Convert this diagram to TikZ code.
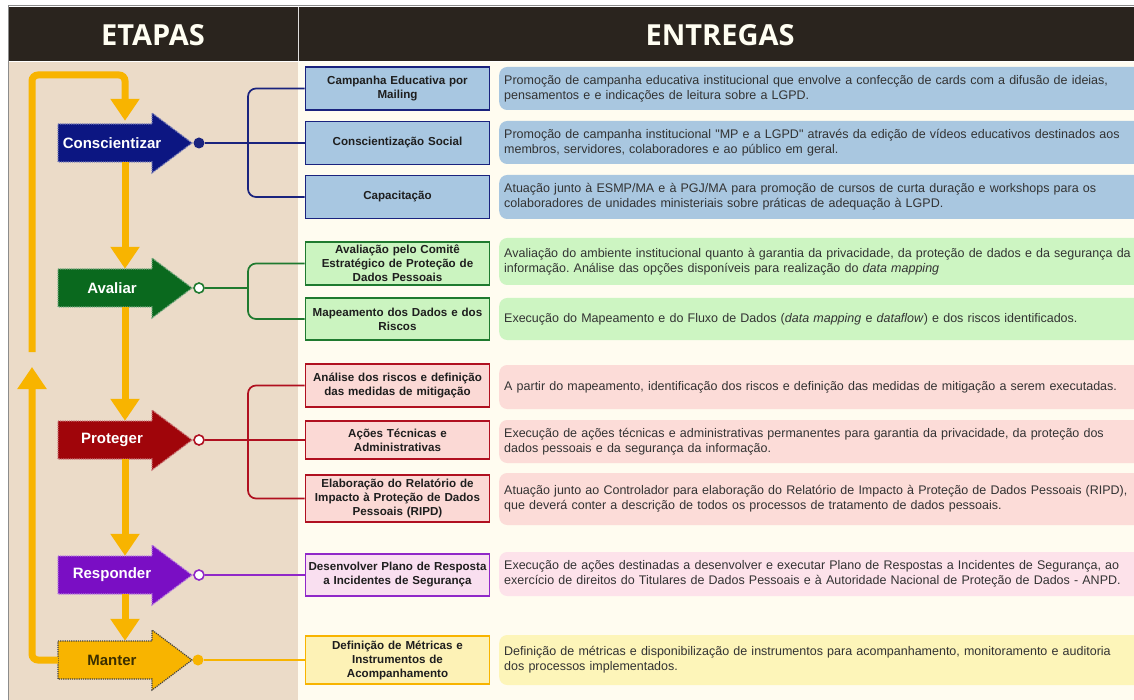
\documentclass[tikz,border=0pt]{standalone}
\usepackage{fontspec}
\setmainfont{Liberation Sans}[Ligatures=TeXOff]
\newfontfamily\headfont{Open Sans}
\usetikzlibrary{arrows.meta,calc}
\frenchspacing
\definecolor{hdr}{HTML}{2A241E}
\definecolor{beige}{HTML}{EBDBC8}
\definecolor{cream}{HTML}{FFFCF0}
\definecolor{frame}{HTML}{8C8C8C}
\definecolor{gold}{HTML}{F8B400}
\definecolor{navyS}{RGB}{12,22,130}
\definecolor{greenS}{RGB}{10,105,30}
\definecolor{redS}{RGB}{160,5,10}
\definecolor{purpS}{RGB}{122,14,196}
\definecolor{navyL}{HTML}{1A237E}
\definecolor{greenL}{HTML}{1F7A2F}
\definecolor{redL}{HTML}{B01020}
\definecolor{purpL}{HTML}{9028C8}
\definecolor{blueF}{HTML}{A8C7E1}
\definecolor{greenF}{HTML}{CBF4C0}
\definecolor{pinkF}{HTML}{FBD9D5}
\definecolor{lavF}{HTML}{F9DFF0}
\definecolor{yelF}{HTML}{FDF2B6}
\definecolor{blueD}{HTML}{A9C7E0}
\definecolor{greenD}{HTML}{CDF5C2}
\definecolor{pinkD}{HTML}{FCDCD8}
\definecolor{lavD}{HTML}{FDE2EA}
\definecolor{yelD}{HTML}{FDF5B9}
\definecolor{txt}{HTML}{333333}
\definecolor{mtxt}{HTML}{1E1E1E}
\definecolor{mantxt}{HTML}{3B2F00}
\newcommand\stageshape[3]{%
  \filldraw[fill=#2, draw=#3, densely dotted, line width=1.2pt]
    (58,{#1-19}) -- (152,{#1-19}) -- (152,{#1-30}) -- (192,#1) --
    (152,{#1+30}) -- (152,{#1+19}) -- (58,{#1+19}) -- cycle;}
\begin{document}
\begin{tikzpicture}[x=1pt,y=-1pt,
  headtext/.style={text=white!95!yellow, font=\headfont\bfseries\fontsize{29}{32}\selectfont},
  stagetext/.style={text=white, font=\bfseries\fontsize{15}{18}\selectfont,
    minimum width=108pt, minimum height=38pt, inner sep=0pt},
  dotfill/.style={circle, inner sep=0pt, minimum size=11pt},
  dotopen/.style={circle, inner sep=0pt, minimum size=10pt, fill=white, line width=1.6pt},
  midbox/.style={draw, line width=1.8pt, text width=182pt, align=center, inner sep=1pt,
    text=mtxt, font=\bfseries\fontsize{11.6}{14}\selectfont},
  desc/.style={anchor=west, rounded corners=8pt, text width=650pt, align=left,
    inner xsep=5pt, inner ysep=2pt, text=txt, font=\fontsize{12.5}{15}\selectfont},
  conn/.style={line width=1.7pt, rounded corners=8pt},
  yl/.style={draw=gold, line width=7pt, rounded corners=6pt},
  yarr/.style={yl, -{Triangle[width=28pt,length=22pt]}}
]
\useasboundingbox (0,0) rectangle (1134,700);
\clip (0,0) rectangle (1134,700);
\fill[white] (0,0) rectangle (1134,700);
% panels
\fill[cream] (298,62) rectangle (1134,700);
\fill[beige] (9,62) rectangle (298,700);
\fill[hdr] (9,7) rectangle (1134,61);
\draw[frame, line width=1.5pt] (8.5,700) -- (8.5,5.5) -- (1134,5.5);
\draw[white!85!hdr, line width=1pt] (298,7) -- (298,61);
\node[headtext] (h1) at (153,35) {ETAPAS};
\node[headtext] (h2) at (720,35) {ENTREGAS};

% stage arrows
\stageshape{143}{navyS}{navyS!55!white}
\node[stagetext] (c) at (112,143) {Conscientizar};
\stageshape{288}{greenS}{greenS!55!white}
\node[stagetext] (a) at (112,288) {Avaliar};
\stageshape{440}{redS}{redS!55!white}
\node[stagetext] (p) at (112,440) {Proteger};
\stageshape{575}{purpS}{purpS!55!white}
\node[stagetext] (r) at (112,575) {Responder};
\stageshape{660}{gold}{black!75}
\node[stagetext, text=mantxt] (m) at (112,660) {Manter};

% yellow flow
\coordinate (spine) at (125,0);
\coordinate (gapTop) at (32,352);
\coordinate (gapTip) at (32,367);
\coordinate (lt) at (32,75);
\coordinate (rt) at (125,75);
\draw[yarr] (gapTop) -- (lt) -- (rt) -- ($(c.north -| spine)+(0,-3)$);
\draw[yarr] (c.south -| spine) -- (a.north -| spine);
\draw[yarr] (a.south -| spine) -- (p.north -| spine);
\draw[yarr] (p.south -| spine) -- (r.north -| spine);
\draw[yarr] (r.south -| spine) -- (m.north -| spine);
\draw[yarr] (m.west) -| (gapTip);

% dots
\node[dotfill, fill=navyL] (cd) at (199,143) {};
\node[dotopen, draw=greenL] (ad) at (199,288) {};
\node[dotopen, draw=redL] (pd) at (199,440) {};
\node[dotopen, draw=purpL] (rd) at (199,575) {};
\node[dotfill, fill=gold] (md) at (198,660) {};

% middle boxes
\node[midbox, draw=navyL, fill=blueF, minimum height=43pt] (b1) at (397.5,88.5) {Campanha Educativa por\\Mailing};
\node[midbox, draw=navyL, fill=blueF, minimum height=43pt] (b2) at (397.5,143) {Conscientização Social};
\node[midbox, draw=navyL, fill=blueF, minimum height=43pt] (b3) at (397.5,197) {Capacitação};
\node[midbox, draw=greenL, fill=greenF, minimum height=43pt] (a1) at (397.5,263.5) {Avaliação pelo Comitê\\Estratégico de Proteção de\\Dados Pessoais};
\node[midbox, draw=greenL, fill=greenF, minimum height=42pt] (a2) at (397.5,319) {Mapeamento dos Dados e dos\\Riscos};
\node[midbox, draw=redL, fill=pinkF, minimum height=43pt] (p1) at (397.5,385.5) {Análise dos riscos e definição\\das medidas de mitigação};
\node[midbox, draw=redL, fill=pinkF, minimum height=38pt] (p2) at (397.5,440) {Ações Técnicas e\\Administrativas};
\node[midbox, draw=redL, fill=pinkF, minimum height=47pt] (p3) at (397.5,498.5) {Elaboração do Relatório de\\Impacto à Proteção de Dados\\Pessoais (RIPD)};
\node[midbox, draw=purpL, fill=lavF, minimum height=42pt] (r1) at (397.5,575) {Desenvolver Plano de Resposta\\a Incidentes de Segurança};
\node[midbox, draw=gold, fill=yelF, minimum height=48pt] (m1) at (397.5,660) {Definição de Métricas e\\Instrumentos de\\Acompanhamento};

% connectors
\coordinate (j1) at (248,143);
\coordinate (j2) at (248,288);
\coordinate (j3) at (248,440);
\draw[conn, navyL] (cd) -- (b2);
\draw[conn, navyL] (b1.west) -| (j1) |- (b3.west);
\draw[conn, greenL] (ad) -- (j2);
\draw[conn, greenL] (a1.west) -| (j2) |- (a2.west);
\draw[conn, redL] (pd) -- (p2);
\draw[conn, redL] (p1.west) -| (j3) |- (p3.west);
\draw[conn, purpL] (rd) -- (r1);
\draw[conn, gold] (md) -- (m1);

% descriptions
\node[desc, fill=blueD, minimum height=43pt] (d1) at (499,88.5) {Promoção de campanha educativa institucional que envolve a confecção de cards com a difusão de ideias,\\pensamentos e e indicações de leitura sobre a LGPD.};
\node[desc, fill=blueD, minimum height=43pt] (d2) at (499,142.5) {Promoção de campanha institucional "MP e a LGPD" através da edição de vídeos educativos destinados aos\\membros, servidores, colaboradores e ao público em geral.};
\node[desc, fill=blueD, minimum height=44pt] (d3) at (499,197) {Atuação junto à ESMP/MA e à PGJ/MA para promoção de cursos de curta duração e workshops para os\\colaboradores de unidades ministeriais sobre práticas de adequação à LGPD.};
\node[desc, fill=greenD, minimum height=47pt] (d4) at (499,261.5) {Avaliação do ambiente institucional quanto à garantia da privacidade, da proteção de dados e da segurança da\\informação. Análise das opções disponíveis para realização do \textit{data mapping}};
\node[desc, fill=greenD, minimum height=42pt] (d5) at (499,319) {Execução do Mapeamento e do Fluxo de Dados (\textit{data mapping} e \textit{dataflow}) e dos riscos identificados.};
\node[desc, fill=pinkD, minimum height=44pt] (d6) at (499,387) {A partir do mapeamento, identificação dos riscos e definição das medidas de mitigação a serem executadas.};
\node[desc, fill=pinkD, minimum height=43pt] (d7) at (499,441.5) {Execução de ações técnicas e administrativas permanentes para garantia da privacidade, da proteção dos\\dados pessoais e da segurança da informação.};
\node[desc, fill=pinkD, minimum height=52pt] (d8) at (499,499) {Atuação junto ao Controlador para elaboração do Relatório de Impacto à Proteção de Dados Pessoais (RIPD),\\que deverá conter a descrição de todos os processos de tratamento de dados pessoais.};
\node[desc, fill=lavD, minimum height=44pt] (d9) at (499,574) {Execução de ações destinadas a desenvolver e executar Plano de Respostas a Incidentes de Segurança, ao\\exercício de direitos do Titulares de Dados Pessoais e à Autoridade Nacional de Proteção de Dados - ANPD.};
\node[desc, fill=yelD, minimum height=50pt] (d10) at (499,660) {Definição de métricas e disponibilização de instrumentos para acompanhamento, monitoramento e auditoria\\dos processos implementados.};
\end{tikzpicture}
\end{document}
